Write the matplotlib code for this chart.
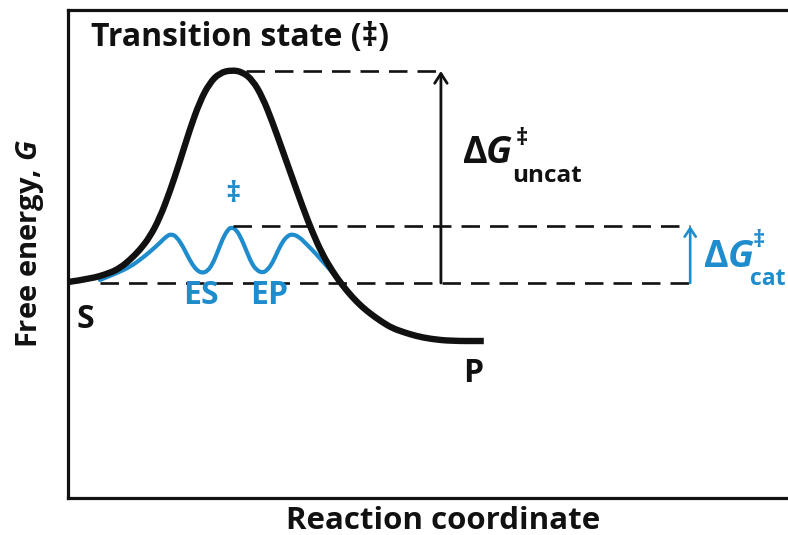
import matplotlib
matplotlib.use("Agg")
import matplotlib.pyplot as plt
from matplotlib.path import Path
from matplotlib.patches import PathPatch

plt.rcParams['font.family'] = ['Open Sans', 'DejaVu Sans']
plt.rcParams['mathtext.fontset'] = 'custom'
plt.rcParams['mathtext.rm'] = 'Open Sans:bold'
plt.rcParams['mathtext.it'] = 'Open Sans:italic:bold'

BLACK = '#111111'
BLUE = '#1e8ccd'

# uncatalysed reaction profile (reaction coordinate, free energy)
uncat_x = [0, 2.2, 4.2, 5.2, 6.2, 7.2, 8.2, 9.2, 10.2, 11.2, 12.2, 13.2, 14.2,
           15.2, 16.4, 17.5, 18.5, 19.5, 20.5, 21.5, 22.5, 23.5, 24.5, 25.5,
           26.5, 27.5, 28.5, 29.5, 30.5, 31.5, 32.5, 33.6, 34.9, 36.4, 38.4, 41.7]
uncat_g = [0.1, 0.4, 1.0, 1.5, 2.3, 3.3, 4.6, 6.5, 9.1, 12.1, 15.3, 18.1, 20.0,
           21.0, 21.3, 21.1, 20.3, 18.6, 16.1, 13.3, 10.5, 7.7, 5.1, 2.9,
           1.2, -0.2, -1.4, -2.4, -3.2, -3.9, -4.5, -4.9, -5.3, -5.6, -5.8, -5.8]

# enzyme-catalysed profile
cat_x = [3.2, 4.7, 6.2, 7.2, 8.2, 9.2, 9.9, 10.4, 10.9, 11.5, 12.0, 12.5, 13.0,
         13.5, 14.0, 14.5, 15.0, 15.5, 16.0, 16.4, 16.9, 17.4, 17.9, 18.4,
         18.9, 19.5, 20.0, 20.5, 21.0, 21.5, 22.0, 22.5, 23.2, 23.9, 24.7,
         25.5, 26.3, 27.2]
cat_g = [0.3, 0.9, 1.6, 2.3, 3.1, 4.0, 4.7, 4.9, 4.6, 3.7, 2.7, 1.8, 1.2,
         1.0, 1.2, 1.9, 3.1, 4.4, 5.3, 5.6, 5.3, 4.4, 3.2, 2.0,
         1.3, 1.0, 1.3, 2.0, 3.1, 4.1, 4.7, 4.9, 4.6, 3.9, 3.1,
         2.2, 1.3, 0.3]

g_substrate = 0.0
g_ts_uncat = 21.2
g_ts_cat = 5.7
x_arrow_uncat = 37.4
x_arrow_cat = 62.4


def smooth_path(xs, ys):
    # quadratic bezier through the midpoints, points act as control points
    verts = [(xs[0], ys[0])]
    codes = [Path.MOVETO]
    for i in range(1, len(xs) - 1):
        verts += [(xs[i], ys[i]), ((xs[i] + xs[i + 1]) / 2, (ys[i] + ys[i + 1]) / 2)]
        codes += [Path.CURVE3, Path.CURVE3]
    verts.append((xs[-1], ys[-1]))
    codes.append(Path.LINETO)
    return Path(verts, codes)


fig = plt.figure(figsize=(7.88, 5.35), dpi=100)
ax = fig.add_axes([68 / 788, 37 / 535, 1 - 68 / 788 + 0.01, 488 / 535])
ax.set_xlim(0, 73)
ax.set_ylim(-21.5, 27.3)
ax.set_xticks([])
ax.set_yticks([])
ax.spines['right'].set_visible(False)
for s in ['left', 'top', 'bottom']:
    ax.spines[s].set_linewidth(2.3)
    ax.spines[s].set_color(BLACK)

# dashed reference levels
dash = dict(color=BLACK, lw=1.9, dashes=(7, 3.8))
ax.plot([17.9, x_arrow_uncat], [g_ts_uncat, g_ts_uncat], **dash)
ax.plot([16.5, x_arrow_cat], [g_ts_cat, g_ts_cat], **dash)
ax.plot([3.2, x_arrow_cat], [g_substrate, g_substrate], **dash)

ax.add_patch(PathPatch(smooth_path(cat_x, cat_g), fill=False, edgecolor=BLUE,
                       lw=3.0, joinstyle='round', capstyle='round'))
ax.add_patch(PathPatch(smooth_path(uncat_x, uncat_g), fill=False, edgecolor=BLACK,
                       lw=4.6, joinstyle='round', capstyle='butt'))

ax.annotate('', xy=(x_arrow_uncat, g_ts_uncat), xytext=(x_arrow_uncat, g_substrate),
            arrowprops=dict(arrowstyle='->,head_length=0.7,head_width=0.45',
                            color=BLACK, lw=2.0, shrinkA=0, shrinkB=0))
ax.annotate('', xy=(x_arrow_cat, g_ts_cat), xytext=(x_arrow_cat, g_substrate),
            arrowprops=dict(arrowstyle='->,head_length=0.6,head_width=0.4',
                            color=BLUE, lw=1.9, shrinkA=0, shrinkB=0))

bold = dict(fontweight='bold')
ax.text(2.3, 24.5, 'Transition state (\u2021)', fontsize=23, color=BLACK, va='center', **bold)
ax.text(16.5, 8.8, '\u2021', fontsize=21, color=BLUE, ha='center', va='center', **bold)
ax.text(13.3, -1.2, 'ES', fontsize=23, color=BLUE, ha='center', va='center', **bold)
ax.text(20.2, -1.2, 'EP', fontsize=23, color=BLUE, ha='center', va='center', **bold)
ax.text(1.7, -3.6, 'S', fontsize=23, color=BLACK, ha='center', va='center', **bold)
ax.text(40.6, -9.0, 'P', fontsize=23, color=BLACK, ha='center', va='center', **bold)

# Delta G uncat label
ax.text(39.6, 12.0, '\u0394', fontsize=27, color=BLACK, va='baseline', **bold)
ax.text(41.9, 12.0, 'G', fontsize=27, color=BLACK, va='baseline', style='italic', **bold)
ax.text(44.9, 14.4, '\u2021', fontsize=17, color=BLACK, va='center', **bold)
ax.text(44.5, 10.1, 'uncat', fontsize=17.5, color=BLACK, va='baseline', **bold)

# Delta G cat label
ax.text(63.8, 1.6, '\u0394', fontsize=27, color=BLUE, va='baseline', **bold)
ax.text(66.2, 1.6, 'G', fontsize=27, color=BLUE, va='baseline', style='italic', **bold)
ax.text(68.7, 4.2, '\u2021', fontsize=17, color=BLUE, va='center', **bold)
ax.text(68.4, -0.2, 'cat', fontsize=16.5, color=BLUE, va='baseline', **bold)

fig.text(30 / 788, 1 - 244 / 535, 'Free energy, $G$', fontsize=21, rotation=90,
         ha='center', va='center', color=BLACK, **bold)
fig.text(443 / 788, 1 - 529 / 535, 'Reaction coordinate', fontsize=22.5,
         ha='center', va='baseline', color=BLACK, **bold)

fig.savefig('out.png', dpi=100)
